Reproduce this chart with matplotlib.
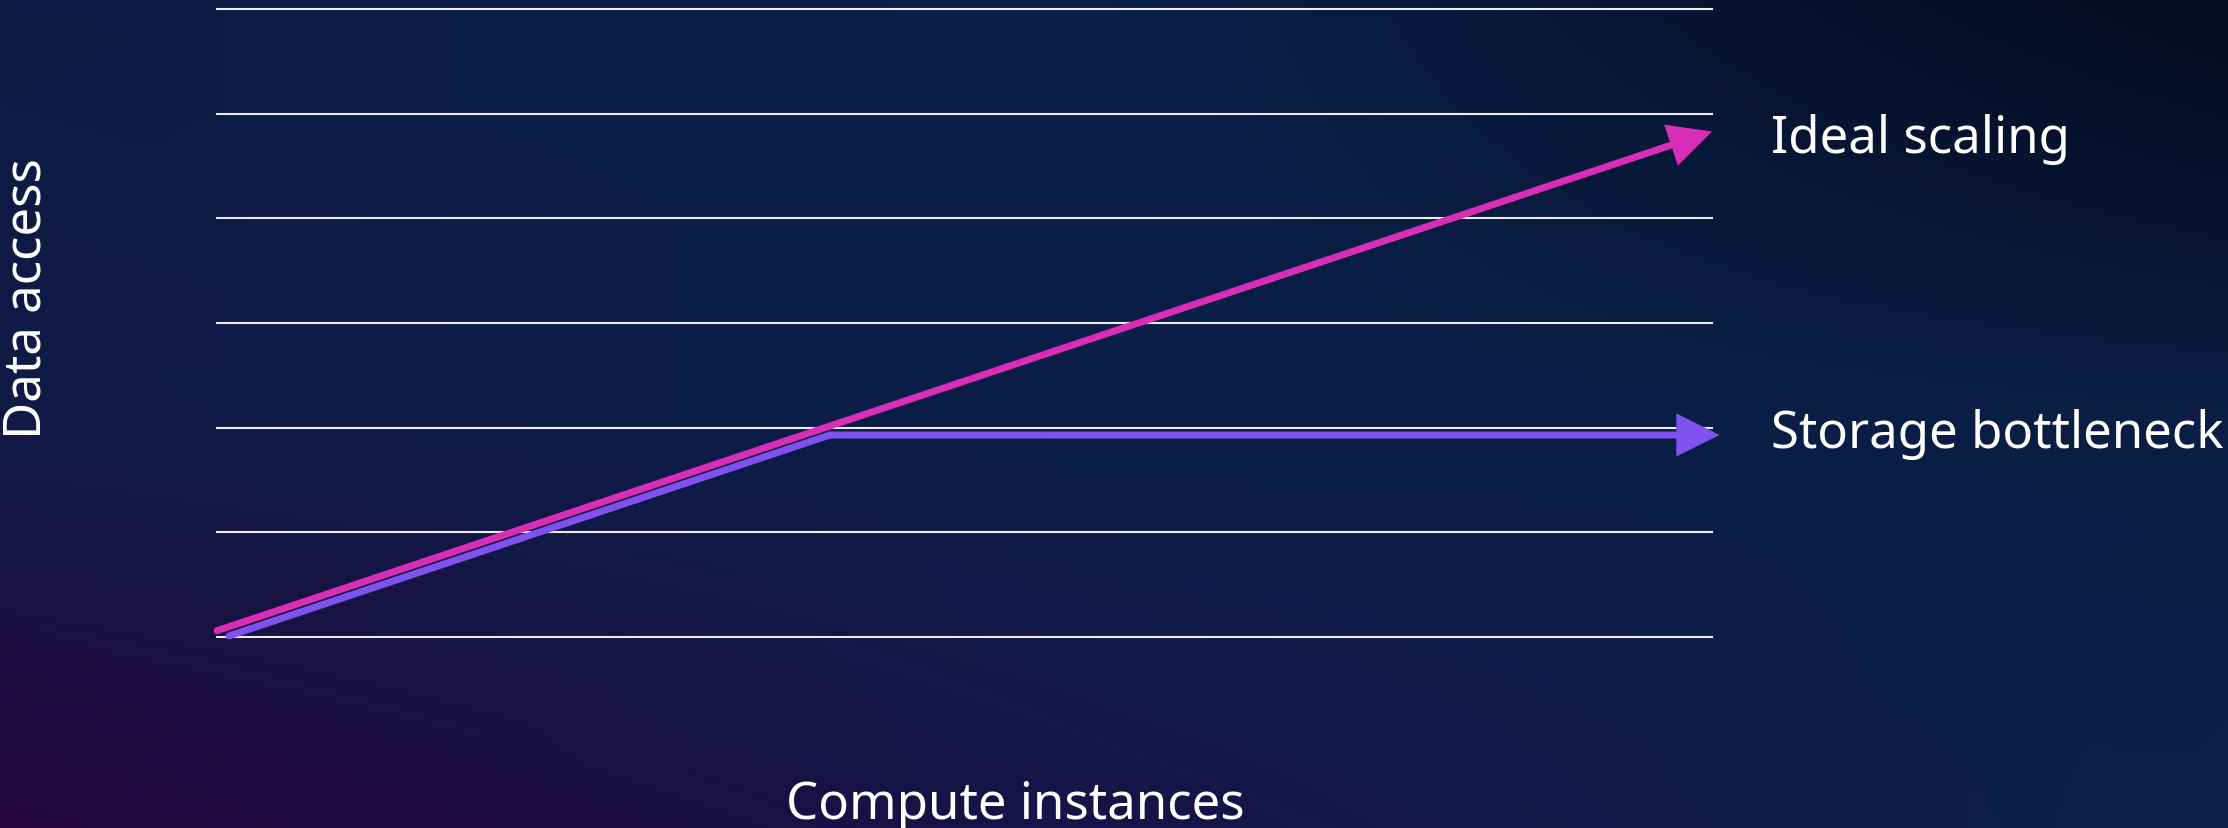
import numpy as np
import matplotlib
matplotlib.use("Agg")
import matplotlib.pyplot as plt
from matplotlib.colors import to_rgb

# Series data (x: compute instances, y: data access)
ideal_x = [0.0, 10.0]
ideal_y = [0.06, 4.83]
storage_x = [0.08, 4.1, 10.05]
storage_y = [0.01, 1.93, 1.93]

grid_levels = [0, 1, 2, 3, 4, 5, 6]

series_labels = ["Ideal scaling", "Storage bottleneck"]
x_label = "Compute instances"
y_label = "Data access"

ideal_color = "#D92DB8"
storage_color = "#7F52F0"
font = ["Noto Sans", "DejaVu Sans"]
fs = 36.7

W, H, DPI = 2228, 829, 100
fig = plt.figure(figsize=(W / DPI, H / DPI), dpi=DPI)

# Background gradient
bg = fig.add_axes([0, 0, 1, 1], zorder=-10)
corners = [
    ["#0c1a42", "#0a1f48", "#030a1a"],
    ["#101a46", "#0b1f48", "#0a1d42"],
    ["#24073c", "#151448", "#0b2148"],
]
c = np.array([[to_rgb(v) for v in row] for row in corners])
ny, nx = 200, 400
yy = np.linspace(0, 2, ny)
xx = np.linspace(0, 2, nx)
img = np.zeros((ny, nx, 3))
for i, yv in enumerate(yy):
    r0 = min(int(yv), 1)
    ty = yv - r0
    for j, xv in enumerate(xx):
        c0 = min(int(xv), 1)
        tx = xv - c0
        top = c[r0, c0] * (1 - tx) + c[r0, c0 + 1] * tx
        bot = c[r0 + 1, c0] * (1 - tx) + c[r0 + 1, c0 + 1] * tx
        img[i, j] = top * (1 - ty) + bot * ty
bg.imshow(img, aspect="auto", extent=[0, 1, 0, 1], interpolation="bicubic")
bg.set_axis_off()

ax = fig.add_axes([217 / W, (H - 638) / H, 1495 / W, 628 / H])
ax.set_facecolor("none")
ax.set_xlim(0, 10)
ax.set_ylim(0, 6)
ax.set_yticks(grid_levels)
ax.grid(axis="y", color="#ececf2", linewidth=1.5)
for gl in ax.get_ygridlines():
    gl.set_clip_on(False)
ax.tick_params(left=False, bottom=False, labelleft=False, labelbottom=False)
for s in ax.spines.values():
    s.set_visible(False)

lw = 5.0
head = "-|>,head_length=23,head_width=11.5"


def arrow_series(xs, ys, color, z):
    if len(xs) > 2:
        ax.plot(xs[:-1], ys[:-1], color=color, lw=lw, solid_capstyle="round",
                solid_joinstyle="round", clip_on=False, zorder=z)
    ax.annotate("", xy=(xs[-1], ys[-1]), xytext=(xs[-2], ys[-2]),
                annotation_clip=False, zorder=z,
                arrowprops=dict(arrowstyle=head, color=color, lw=lw,
                                mutation_scale=1, shrinkA=0, shrinkB=0,
                                capstyle="round", joinstyle="miter"))


arrow_series(storage_x, storage_y, storage_color, 3)
arrow_series(ideal_x, ideal_y, ideal_color, 4)

fig.text(1771 / W, (H - 153) / H, series_labels[0], color="white",
         fontsize=fs, family=font, va="baseline", ha="left")
fig.text(1771 / W, (H - 448) / H, series_labels[1], color="white",
         fontsize=fs, family=font, va="baseline", ha="left")
fig.text(1015 / W, (H - 819) / H, x_label, color="white",
         fontsize=fs, family=font, va="baseline", ha="center")
fig.text(27 / W, (H - 299) / H, y_label, color="white", rotation=90,
         fontsize=fs, family=font, va="center", ha="center")

fig.savefig("out.png", dpi=DPI)
